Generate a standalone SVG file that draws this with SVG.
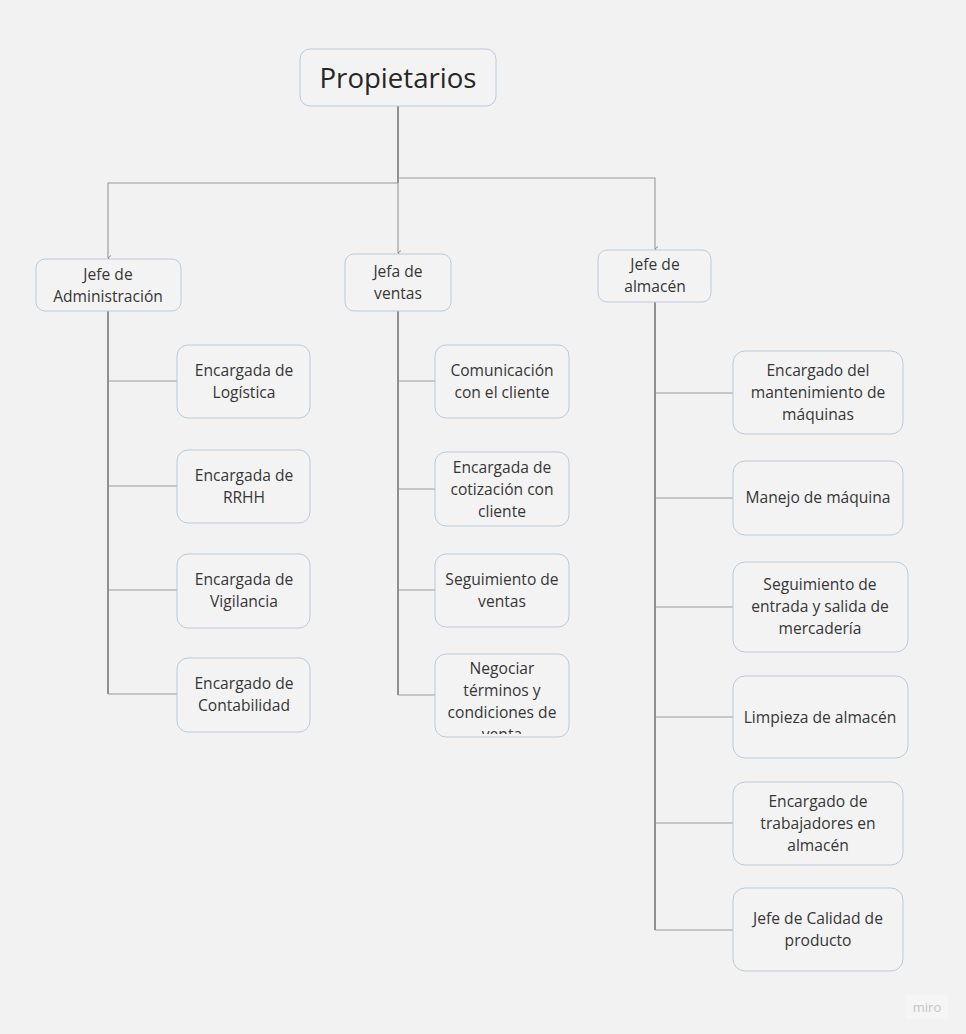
<svg xmlns="http://www.w3.org/2000/svg" width="966" height="1034" viewBox="0 0 966 1034">
<style>
.box{fill:#f3f3f3;stroke:#b9c9dc;stroke-width:1}
.t{font-family:"Open Sans","Noto Sans",sans-serif;font-size:15.6px;fill:#363636;text-anchor:middle}
.big{font-size:27.6px;fill:#262626}
.trunk{stroke:#5a5a5a;stroke-width:1.3;fill:none}
.br{stroke:#9a9a9a;stroke-width:1.1;fill:none}
</style>
<defs>
<marker id="ar" markerWidth="6" markerHeight="6" refX="3" refY="5" orient="auto" markerUnits="userSpaceOnUse">
<path d="M0.5,2 L3,5 L5.5,2" fill="none" stroke="#8a8a8a" stroke-width="1"/>
</marker>
<clipPath id="cNeg"><rect x="435" y="654" width="134" height="80"/></clipPath>
</defs>
<rect width="966" height="1034" fill="#f2f2f2"/>

<g id="connectors">
<line class="trunk" x1="398" y1="106" x2="398" y2="183"/>
<polyline class="br" points="398,183 108,183 108,258" marker-end="url(#ar)"/>
<line class="br" x1="398" y1="178" x2="398" y2="253" marker-end="url(#ar)"/>
<polyline class="br" points="398,178 655,178 655,249" marker-end="url(#ar)"/>

<line class="trunk" x1="108" y1="311" x2="108" y2="694"/>
<line class="br" x1="108" y1="381" x2="177" y2="381"/>
<line class="br" x1="108" y1="486" x2="177" y2="486"/>
<line class="br" x1="108" y1="590" x2="177" y2="590"/>
<line class="br" x1="108" y1="694" x2="177" y2="694"/>

<line class="trunk" x1="398" y1="311" x2="398" y2="695"/>
<line class="br" x1="398" y1="381" x2="435" y2="381"/>
<line class="br" x1="398" y1="489" x2="435" y2="489"/>
<line class="br" x1="398" y1="590" x2="435" y2="590"/>
<line class="br" x1="398" y1="695" x2="435" y2="695"/>

<line class="trunk" x1="655" y1="302" x2="655" y2="930"/>
<line class="br" x1="655" y1="393" x2="733" y2="393"/>
<line class="br" x1="655" y1="498" x2="733" y2="498"/>
<line class="br" x1="655" y1="607" x2="733" y2="607"/>
<line class="br" x1="655" y1="717" x2="733" y2="717"/>
<line class="br" x1="655" y1="823" x2="733" y2="823"/>
<line class="br" x1="655" y1="930" x2="733" y2="930"/>
</g>

<g id="propietarios">
<rect class="box" x="300" y="49" width="196" height="57" rx="10"/>
<text class="t big" x="398" y="88">Propietarios</text>
</g>

<g id="jefe-admin">
<rect class="box" x="36" y="259" width="145" height="52" rx="9"/>
<text class="t" x="108" y="280">Jefe de</text>
<text class="t" x="108" y="302">Administración</text>
</g>
<g id="jefa-ventas">
<rect class="box" x="345" y="254" width="106" height="57" rx="9"/>
<text class="t" x="398" y="277">Jefa de</text>
<text class="t" x="398" y="299">ventas</text>
</g>
<g id="jefe-almacen">
<rect class="box" x="598" y="250" width="113" height="52" rx="9"/>
<text class="t" x="655" y="270">Jefe de</text>
<text class="t" x="655" y="292">almacén</text>
</g>

<g id="logistica">
<rect class="box" x="177" y="345" width="133" height="73" rx="11"/>
<text class="t" x="244" y="376">Encargada de</text>
<text class="t" x="244" y="398">Logística</text>
</g>
<g id="rrhh">
<rect class="box" x="177" y="450" width="133" height="73" rx="11"/>
<text class="t" x="244" y="481">Encargada de</text>
<text class="t" x="244" y="503">RRHH</text>
</g>
<g id="vigilancia">
<rect class="box" x="177" y="554" width="133" height="74" rx="11"/>
<text class="t" x="244" y="585">Encargada de</text>
<text class="t" x="244" y="607">Vigilancia</text>
</g>
<g id="contabilidad">
<rect class="box" x="177" y="658" width="133" height="74" rx="11"/>
<text class="t" x="244" y="689">Encargado de</text>
<text class="t" x="244" y="711">Contabilidad</text>
</g>

<g id="comunicacion">
<rect class="box" x="435" y="345" width="134" height="73" rx="11"/>
<text class="t" x="502" y="376">Comunicación</text>
<text class="t" x="502" y="398">con el cliente</text>
</g>
<g id="cotizacion">
<rect class="box" x="435" y="452" width="134" height="74" rx="11"/>
<text class="t" x="502" y="473">Encargada de</text>
<text class="t" x="502" y="495">cotización con</text>
<text class="t" x="502" y="517">cliente</text>
</g>
<g id="seguimiento-ventas">
<rect class="box" x="435" y="554" width="134" height="73" rx="11"/>
<text class="t" x="502" y="585">Seguimiento de</text>
<text class="t" x="502" y="607">ventas</text>
</g>
<g id="negociar">
<rect class="box" x="435" y="654" width="134" height="83" rx="11"/>
<g clip-path="url(#cNeg)">
<text class="t" x="502" y="674">Negociar</text>
<text class="t" x="502" y="696">términos y</text>
<text class="t" x="502" y="718">condiciones de</text>
<text class="t" x="502" y="740">venta</text>
</g>
</g>

<g id="mantenimiento">
<rect class="box" x="733" y="351" width="170" height="83" rx="12"/>
<text class="t" x="818" y="376">Encargado del</text>
<text class="t" x="818" y="398">mantenimiento de</text>
<text class="t" x="818" y="420">máquinas</text>
</g>
<g id="manejo">
<rect class="box" x="733" y="461" width="170" height="74" rx="12"/>
<text class="t" x="818" y="503">Manejo de máquina</text>
</g>
<g id="seguimiento-entrada">
<rect class="box" x="733" y="562" width="175" height="90" rx="12"/>
<text class="t" x="820" y="590">Seguimiento de</text>
<text class="t" x="820" y="612">entrada y salida de</text>
<text class="t" x="820" y="634">mercadería</text>
</g>
<g id="limpieza">
<rect class="box" x="733" y="676" width="175" height="82" rx="12"/>
<text class="t" x="820" y="723">Limpieza de almacén</text>
</g>
<g id="trabajadores">
<rect class="box" x="733" y="782" width="170" height="83" rx="12"/>
<text class="t" x="818" y="807">Encargado de</text>
<text class="t" x="818" y="829">trabajadores en</text>
<text class="t" x="818" y="851">almacén</text>
</g>
<g id="calidad">
<rect class="box" x="733" y="888" width="170" height="83" rx="12"/>
<text class="t" x="818" y="924">Jefe de Calidad de</text>
<text class="t" x="818" y="946">producto</text>
</g>

<g id="logo">
<rect x="906" y="995" width="42" height="24" fill="#f5f5f5"/>
<text x="927" y="1012" font-family="Open Sans,sans-serif" font-size="13" fill="#c4c4c4" text-anchor="middle">miro</text>
</g>
</svg>
